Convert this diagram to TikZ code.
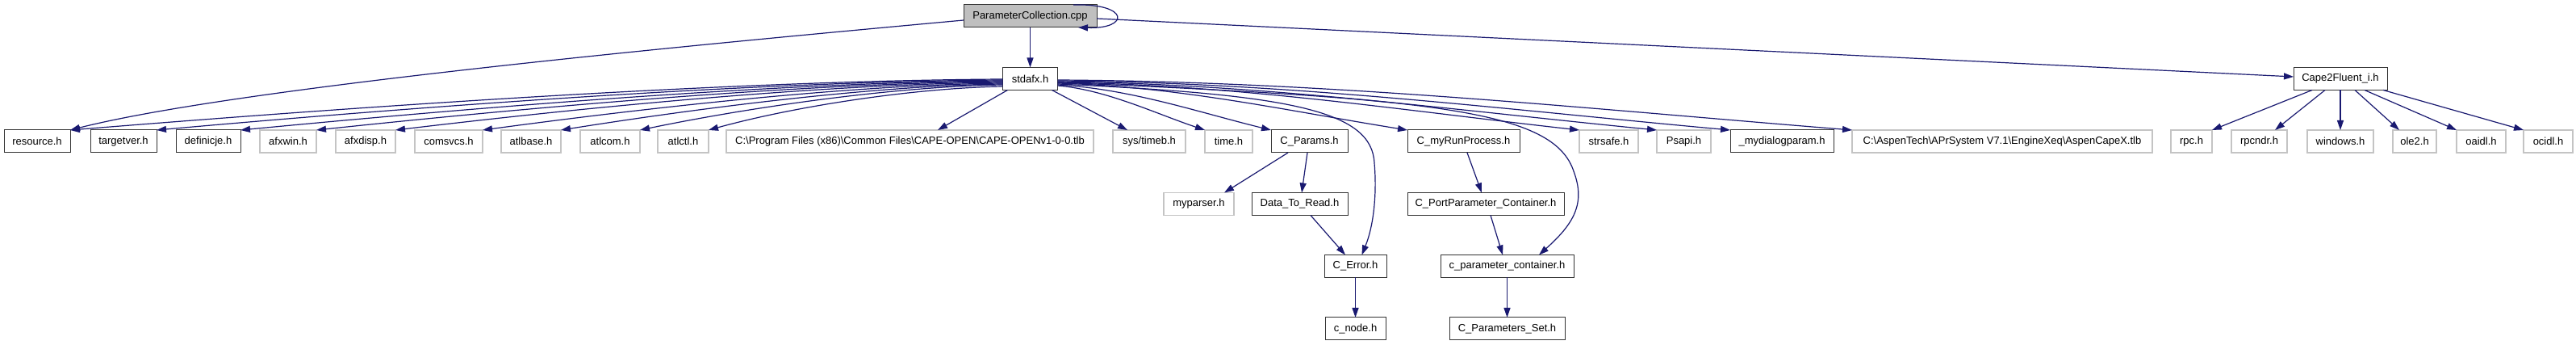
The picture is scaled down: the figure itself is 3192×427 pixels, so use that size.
\documentclass[tikz,border=0pt]{standalone}
\usepackage{fontspec}
\setmainfont{Liberation Sans}
\usetikzlibrary{arrows.meta}
\definecolor{edgeblue}{HTML}{191970}
\definecolor{extgray}{HTML}{C4C4C4}
\definecolor{mainfill}{HTML}{BFBFBF}
\begin{document}
\begin{tikzpicture}[x=1pt,y=1pt,
  box/.style={draw=black!80, line width=1.0pt, fill=white, minimum height=28pt,
    inner sep=0pt, outer sep=0pt, font=\fontsize{13}{15}\selectfont},
  ext/.style={box, draw=extgray, line width=1.3pt},
  mainbox/.style={box, fill=mainfill},
  edge/.style={draw=edgeblue, line width=1.2pt, -{Triangle[length=12pt,width=8pt]}}]
\useasboundingbox[fill=white] (0,0) rectangle (3192,427);

% row 0
\node[mainbox, minimum width=165pt] (PC) at (1276.5,407) {ParameterCollection.cpp};
% row 1
\node[box, minimum width=68pt] (stdafx) at (1276.5,329.5) {stdafx.h};
\node[box, minimum width=116pt] (cape2) at (2900,329.5) {Cape2Fluent\_i.h};
% row 2
\node[box, minimum width=82pt] (resource) at (46,252) {resource.h};
\node[box, minimum width=82pt] (targetver) at (153,252) {targetver.h};
\node[box, minimum width=80pt] (definicje) at (258,252) {definicje.h};
\node[ext, minimum width=70pt] (afxwin) at (357,252) {afxwin.h};
\node[ext, minimum width=74pt] (afxdisp) at (453,252) {afxdisp.h};
\node[ext, minimum width=84pt] (comsvcs) at (556,252) {comsvcs.h};
\node[ext, minimum width=74pt] (atlbase) at (658,252) {atlbase.h};
\node[ext, minimum width=74pt] (atlcom) at (756,252) {atlcom.h};
\node[ext, minimum width=63pt] (atlctl) at (846.5,252) {atlctl.h};
\node[ext, minimum width=455pt] (capeopen) at (1127.5,252) {C:\textbackslash Program Files (x86)\textbackslash Common Files\textbackslash CAPE-OPEN\textbackslash CAPE-OPENv1-0-0.tlb};
\node[ext, minimum width=90pt] (systimeb) at (1424,252) {sys/timeb.h};
\node[ext, minimum width=59pt] (timeh) at (1522.5,252) {time.h};
\node[box, minimum width=95pt] (cparams) at (1622.5,252) {C\_Params.h};
\node[box, minimum width=139pt] (runproc) at (1813.5,252) {C\_myRunProcess.h};
\node[ext, minimum width=73pt] (strsafe) at (1993.5,252) {strsafe.h};
\node[ext, minimum width=67pt] (psapi) at (2086.5,252) {Psapi.h};
\node[box, minimum width=128pt] (mydialog) at (2208,252) {\_mydialogparam.h};
\node[ext, minimum width=372pt] (aspen) at (2481,252) {C:\textbackslash AspenTech\textbackslash APrSystem V7.1\textbackslash EngineXeq\textbackslash AspenCapeX.tlb};
\node[ext, minimum width=51pt] (rpc) at (2715.5,252) {rpc.h};
\node[ext, minimum width=69pt] (rpcndr) at (2799.5,252) {rpcndr.h};
\node[ext, minimum width=82pt] (windows) at (2900,252) {windows.h};
\node[ext, minimum width=54pt] (ole2) at (2992,252) {ole2.h};
\node[ext, minimum width=61pt] (oaidl) at (3074.5,252) {oaidl.h};
\node[ext, minimum width=61pt] (ocidl) at (3157.5,252) {ocidl.h};
% row 3
\node[ext, minimum width=87pt] (myparser) at (1485.5,174.5) {myparser.h};
\node[box, minimum width=119pt] (datatoread) at (1610.5,174.5) {Data\_To\_Read.h};
\node[box, minimum width=194pt] (portparam) at (1841,174.5) {C\_PortParameter\_Container.h};
% row 4
\node[box, minimum width=77pt] (cerror) at (1679.5,97.5) {C\_Error.h};
\node[box, minimum width=165pt] (cparamcont) at (1867.5,97.5) {c\_parameter\_container.h};
% row 5
\node[box, minimum width=75pt] (cnode) at (1679.5,20) {c\_node.h};
\node[box, minimum width=143pt] (paramset) at (1867.5,20) {C\_Parameters\_Set.h};

% edges from ParameterCollection.cpp
\draw[edge] (PC.south) -- (stdafx.north);
\draw[edge] ([xshift=-29pt]PC.north east) .. controls +(70,2) and +(64,-2) .. ([xshift=-23pt]PC.south east);
\draw[edge] ([yshift=-3pt]PC.east) -- ([yshift=2.5pt]cape2.west);
\draw[edge] ([yshift=-5pt]PC.west) .. controls (900,375) and (300,320) .. (resource.north east);

% stdafx.h left fan
\draw[edge] ([yshift=-0.5pt]stdafx.west) .. controls +(-346,-2) and +(346,28) .. (resource.north east);
\draw[edge] ([yshift=-1.5pt]stdafx.west) .. controls +(-314,-2) and +(314,28) .. (targetver.north east);
\draw[edge] ([yshift=-2.5pt]stdafx.west) .. controls +(-283,-2) and +(283,27) .. (definicje.north east);
\draw[edge] ([yshift=-3.5pt]stdafx.west) .. controls +(-255,-2) and +(255,27) .. (afxwin.north east);
\draw[edge] ([yshift=-4.5pt]stdafx.west) .. controls +(-226,-2) and +(226,27) .. (afxdisp.north east);
\draw[edge] ([yshift=-5.5pt]stdafx.west) .. controls +(-193,-2) and +(193,26) .. (comsvcs.north east);
\draw[edge] ([yshift=-6.5pt]stdafx.west) .. controls +(-164,-2) and +(164,26) .. (atlbase.north east);
\draw[edge] ([yshift=-7.5pt]stdafx.west) .. controls +(-135,-2) and +(135,28) .. (atlcom.north east);
\draw[edge] ([yshift=-9.5pt]stdafx.west) .. controls +(-109,-2) and +(109,30) .. (atlctl.north east);
% stdafx.h bottom
\draw[edge] ([xshift=-28pt]stdafx.south) -- ([xshift=34.5pt]capeopen.north);
\draw[edge] ([xshift=27pt]stdafx.south) -- ([xshift=-27pt]systimeb.north);
% stdafx.h right fan
\draw[edge] ([yshift=-8.5pt]stdafx.east) .. controls +(60,-5) and +(-60,20) .. (timeh.north west);
\draw[edge] ([yshift=-7.5pt]stdafx.east) .. controls +(90,-5) and +(-90,22) .. (cparams.north west);
\draw[edge] ([yshift=-5.5pt]stdafx.east) .. controls +(150,-4) and +(-150,24) .. (runproc.north west);
\draw[edge] ([yshift=-4.5pt]stdafx.east) .. controls +(225,-3) and +(-225,25) .. (strsafe.north west);
\draw[edge] ([yshift=-3.5pt]stdafx.east) .. controls +(255,-3) and +(-255,25) .. (psapi.north west);
\draw[edge] ([yshift=-2.5pt]stdafx.east) .. controls +(285,-2) and +(-285,26) .. (mydialog.north west);
\draw[edge] ([yshift=-1.5pt]stdafx.east) .. controls +(335,-2) and +(-335,27) .. (aspen.north west);
\draw[edge] ([yshift=-6.5pt]stdafx.east) .. controls (1600,310) and (1700,290) .. (1703,225)
  .. controls (1706,190) and (1703,150) .. ([xshift=8pt]cerror.north);
\draw[edge] ([yshift=-4.5pt]stdafx.east) .. controls (1780,305) and (1925,290) .. (1950,215)
  .. controls (1965,175) and (1950,150) .. ([xshift=39.5pt]cparamcont.north);

% second level
\draw[edge] ([xshift=-26.5pt]cparams.south) -- ([xshift=31.5pt]myparser.north);
\draw[edge] ([xshift=-2.5pt]cparams.south) -- ([xshift=2.5pt]datatoread.north);
\draw[edge] ([xshift=13.5pt]datatoread.south) -- ([xshift=-12.5pt]cerror.north);
\draw[edge] ([xshift=4.5pt]runproc.south) -- ([xshift=-5pt]portparam.north);
\draw[edge] ([xshift=6pt]portparam.south) -- ([xshift=-5.5pt]cparamcont.north);
\draw[edge] (cerror.south) -- (cnode.north);
\draw[edge] (cparamcont.south) -- (paramset.north);

% Cape2Fluent_i.h fan
\draw[edge] ([xshift=-35pt]cape2.south) -- (rpc.north east);
\draw[edge] ([xshift=-19pt]cape2.south) -- ([xshift=19.5pt]rpcndr.north);
\draw[edge] (cape2.south) -- (windows.north);
\draw[edge] ([xshift=18pt]cape2.south) -- ([xshift=-19pt]ole2.north);
\draw[edge] ([xshift=30pt]cape2.south) -- (oaidl.north west);
\draw[edge] ([xshift=53pt]cape2.south) -- (ocidl.north west);
\end{tikzpicture}
\end{document}
